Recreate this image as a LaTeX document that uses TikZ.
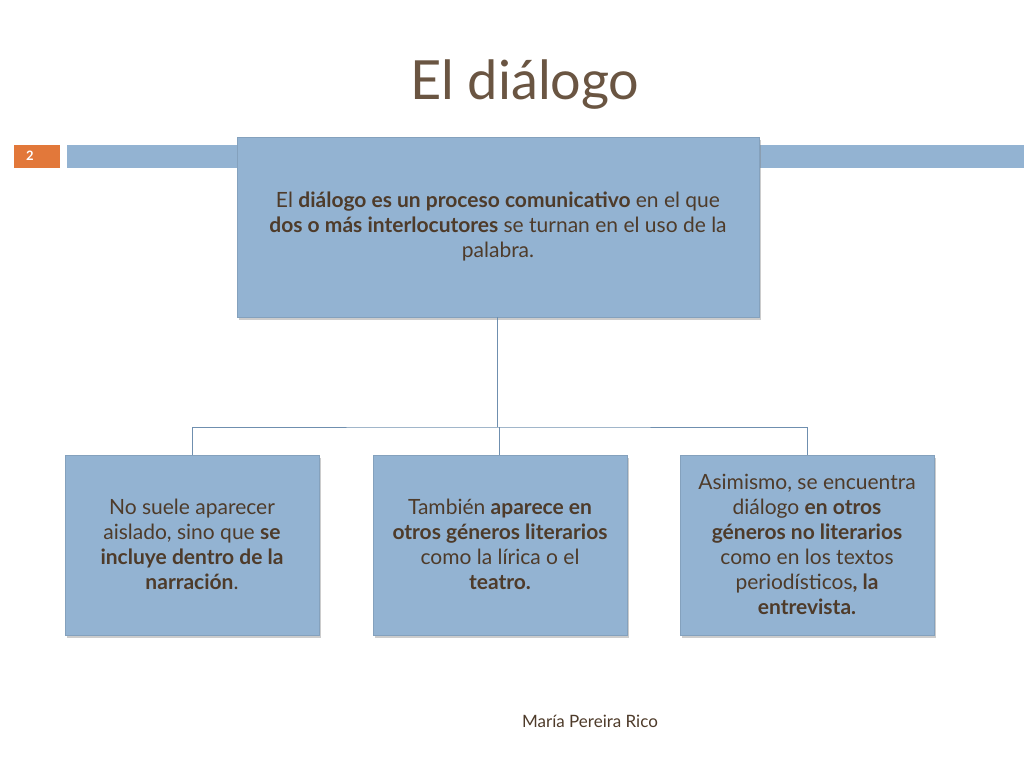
\documentclass[tikz,border=0pt]{standalone}
\usepackage{fontspec}
\usetikzlibrary{shadows}
\setmainfont{Lato}
\definecolor{boxblue}{HTML}{93B3D2}
\definecolor{txt}{HTML}{4E3B2A}
\definecolor{ttl}{HTML}{6A5542}
\definecolor{org}{HTML}{E2783A}
\definecolor{ln}{HTML}{6F8FAF}
\begin{document}
\begin{tikzpicture}[x=1pt,y=-1pt,
  bx/.style={fill=boxblue,draw=boxblue!90!black,line width=0.4pt,
    drop shadow={shadow xshift=2pt,shadow yshift=-3pt,opacity=0.4}},
  tx/.style={text=txt,align=center,font=\fontsize{21}{25}\selectfont},
  conn/.style={draw=ln,line width=0.8pt}]
\useasboundingbox (0,0) rectangle (1024,768);
\fill[white] (0,0) rectangle (1024,768);
\node[text=ttl,font=\fontsize{54}{60}\selectfont] (title) at (525,85) {El diálogo};
\fill[boxblue] (67,145) rectangle (237,168);
\fill[boxblue] (759,145) rectangle (1024,168);
\fill[org] (14,145) rectangle (60,168);
\node[text=white,font=\fontsize{13}{15}\selectfont\bfseries] (num) at (30,156) {2};
\path[bx] (237,137) rectangle (759,317);
\node[tx] (top) at (498,226) {El \textbf{diálogo es un proceso comunicativo} en el que\\ \textbf{dos o más interlocutores} se turnan en el uso de la\\ palabra.};
\coordinate (topb) at (497,317);
\coordinate (j) at (497,427);
\path[bx] (65,455) rectangle (319,635);
\path[bx] (373,455) rectangle (627,635);
\path[bx] (680,455) rectangle (934,635);
\node[tx] (b1) at (192,544) {No suele aparecer\\ aislado, sino que \textbf{se}\\ \textbf{incluye dentro de la}\\ \textbf{narración}.};
\node[tx] (b2) at (500,544) {También \textbf{aparece en}\\ \textbf{otros géneros literarios}\\ como la lírica o el\\ \textbf{teatro.}};
\node[tx] (b3) at (807,544) {Asimismo, se encuentra\\ diálogo \textbf{en otros}\\ \textbf{géneros no literarios}\\ como en los textos\\ periodísticos\textbf{, la}\\ \textbf{entrevista.}};
\coordinate (t1) at (192,455); \coordinate (t2) at (499,455); \coordinate (t3) at (807,455);
\draw[conn] (topb) -- (j);
\draw[conn] (t1) |- (j) -| (t3);
\draw[conn] (t2) -- (499,427);
\node[text=txt,font=\fontsize{17}{20}\selectfont] (foot) at (590,721) {María Pereira Rico};
\end{tikzpicture}
\end{document}
